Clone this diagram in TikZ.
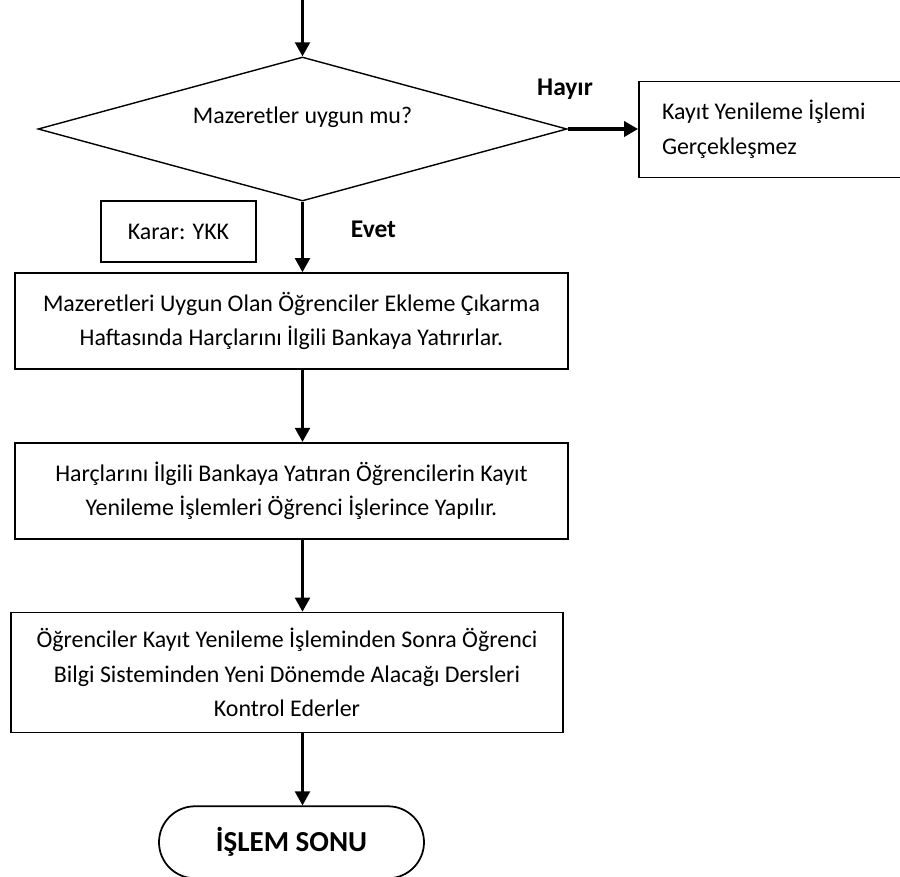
\documentclass[tikz,border=0pt]{standalone}
\usepackage{fontspec}
\setmainfont{Carlito}
\usetikzlibrary{
  arrows.meta,
  positioning,
  shapes.geometric,
  calc
}

\begin{document}
\begin{tikzpicture}[
  every node/.style={font=\fontsize{13.6}{19.7}\selectfont},
  stepbox/.style={draw, line width=1pt, align=center, minimum width=11.06cm, minimum height=1.92cm},
  answer/.style={font=\fontsize{14.5}{18}\selectfont\bfseries},
  flow/.style={-{Triangle[length=0.28cm,width=0.3cm]}, line width=1.2pt}
]
  \useasboundingbox (0,0) rectangle (18,-17.54);

  % Decision
  \node[draw, diamond, aspect=3.67, line width=0.8pt, minimum width=10.58cm, minimum height=2.88cm, inner sep=0pt]
    (dec) at (6.05,-2.58) {\smash{\raisebox{0.12cm}{Mazeretler uygun mu?}}};
  \coordinate (start) at ($(dec.north)+(0,1.14)$);

  % No branch
  \node[draw, line width=1pt, align=flush left, text width=4.4cm, minimum height=1.92cm, inner xsep=0.46cm]
    (fail) at (15.44,-2.59) {Kayıt Yenileme İşlemi\\Gerçekleşmez};
  \node[answer] (hayir) at (11.3,-1.78) {Hayır};

  % Yes branch
  \node[draw, line width=1pt, minimum width=3.1cm, minimum height=1.22cm]
    (karar) at (3.57,-4.63) {Karar: YKK};
  \node[answer] (evet) at (7.47,-4.58) {Evet};

  % Steps
  \node[stepbox] (harc) at (5.83,-6.42)
    {Mazeretleri Uygun Olan Öğrenciler Ekleme Çıkarma\\Haftasında Harçlarını İlgili Bankaya Yatırırlar.};
  \node[stepbox, below=1.44cm of harc] (kayit)
    {Harçlarını İlgili Bankaya Yatıran Öğrencilerin Kayıt\\Yenileme İşlemleri Öğrenci İşlerince Yapılır.};
  \node[stepbox, minimum width=11.04cm, minimum height=2.4cm, below=1.44cm of kayit, xshift=-0.09cm] (ders)
    {Öğrenciler Kayıt Yenileme İşleminden Sonra Öğrenci\\Bilgi Sisteminden Yeni Dönemde Alacağı Dersleri\\Kontrol Ederler};

  % End
  \node[draw, line width=1pt, rounded corners=0.72cm, minimum width=5.3cm, minimum height=1.44cm,
    font=\fontsize{16.5}{20}\selectfont\bfseries, below=1.44cm of ders, xshift=0.09cm] (son) {İŞLEM SONU};

  % Arrows
  \draw[flow] (start) -- (dec.north);
  \draw[flow, line width=2pt] (dec.east) -- (dec.east -| fail.west);
  \draw[flow] (dec.south) -- (dec.south |- harc.north);
  \draw[flow] (harc.south -| dec.south) -- (kayit.north -| dec.south);
  \draw[flow] (kayit.south -| dec.south) -- (ders.north -| dec.south);
  \draw[flow] (ders.south -| dec.south) -- (son.north -| dec.south);

\end{tikzpicture}
\end{document}
